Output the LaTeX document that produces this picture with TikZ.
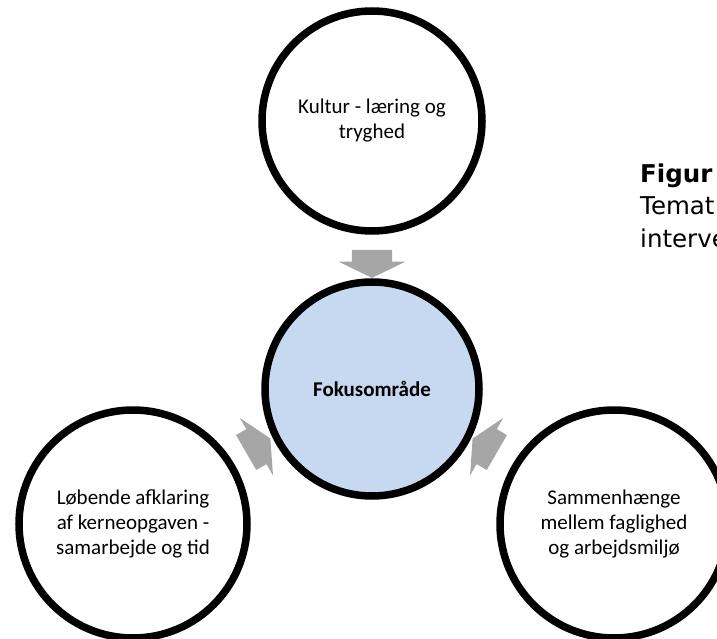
\documentclass[tikz,border=0pt]{standalone}
\usepackage{fontspec}
\setmainfont{Carlito}
\newfontfamily\figfont{DejaVu Sans}
\usetikzlibrary{shapes.arrows}
\usetikzlibrary{shadows}
\definecolor{focusblue}{HTML}{C6D9F1}
\definecolor{arrowgray}{HTML}{A6A6A6}
\tikzset{
	% outer circles
	theme/.style={circle,draw=black,line width=7.5pt,fill=white,inner sep=0pt,align=center,
		font=\fontsize{21}{25}\selectfont,
		drop shadow={opacity=0.2,shadow xshift=2.5pt,shadow yshift=-2.5pt}},
	% the middle circle
	focus/.style={theme,fill=focusblue,font=\fontsize{21}{25}\selectfont\bfseries},
	% grey block arrows
	blockarr/.style={single arrow,fill=arrowgray,draw=none,inner xsep=0pt,inner ysep=20pt,
		minimum height=28pt,
		single arrow head extend=13pt,single arrow tip angle=128},
	% caption text on the right
	figtext/.style={anchor=base west,inner sep=0pt,font=\figfont\fontsize{24.5}{30}\selectfont},
}

\begin{document}
\begin{tikzpicture}[x=1pt,y=1pt]
\useasboundingbox (0,0) rectangle (717,638);
\clip (0,0) rectangle (717,638);
% the arrows pointing in to the focus area
\node[blockarr,rotate=-90] (arrtop) at (372,379) {};
\node[blockarr,rotate=30] (arrleft) at (254,190) {};
\node[blockarr,rotate=150] (arrright) at (489,190) {};
% the circles
\node[focus,minimum size=214pt] (fokus) at (372,249) {Fokusområde};
\node[theme,minimum size=220pt] (kultur) at (372,517) {Kultur - læring og\\tryghed};
\node[theme,minimum size=228pt] (afklaring) at (133,114) {Løbende afklaring\\af kerneopgaven -\\samarbejde og tid};
\node[theme,minimum size=228pt] (sammenhaeng) at (614,114) {Sammenhænge\\mellem faglighed\\og arbejdsmiljø};
% caption, cut off at the edge
\node[figtext,font=\figfont\bfseries\fontsize{24.5}{30}\selectfont] (figur) at (640,455) {Figur};
\node[figtext] (temat) at (640,423) {Temat};
\node[figtext] (interve) at (640,390) {interve};
\end{tikzpicture}
\end{document}
